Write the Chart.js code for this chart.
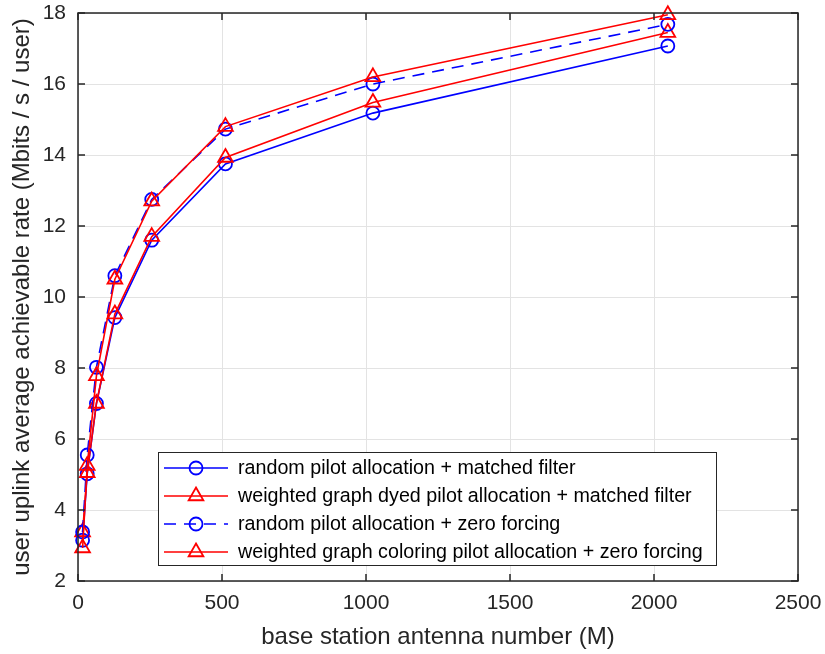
<!DOCTYPE html>
<html>
<head>
<meta charset="utf-8">
<script src="https://cdn.jsdelivr.net/npm/chart.js@4/dist/chart.umd.min.js"></script>
<style>
  html, body { margin: 0; padding: 0; background: #fff; }
  #wrap { width: 825px; height: 654px; }
</style>
</head>
<body>
<div id="wrap"><canvas id="grafico" width="825" height="654"></canvas></div>
<script>
// antenna numbers M
const antenas = [16, 32, 64, 128, 256, 512, 1024, 2048];
// rates (Mbits/s/user)
const aleatorioMF = [3.15, 5.02, 7.00, 9.42, 11.60, 13.75, 15.18, 17.07];
const grafoMF = [3.38, 5.05, 7.00, 9.52, 11.70, 13.93, 15.48, 17.45];
const aleatorioZF = [3.38, 5.55, 8.02, 10.60, 12.75, 14.73, 16.00, 17.68];
const grafoZF = [2.93, 5.25, 7.78, 10.50, 12.70, 14.80, 16.20, 17.95];
const rotulos = [
  "random pilot allocation + matched filter",
  "weighted graph dyed pilot allocation + matched filter",
  "random pilot allocation + zero forcing",
  "weighted graph coloring pilot allocation + zero forcing"
];
const ticksX = [0, 500, 1000, 1500, 2000, 2500];
const ticksY = [2, 4, 6, 8, 10, 12, 14, 16, 18];

const FONTE = "'Liberation Sans', Arial, sans-serif";
const AZUL = "#0000ff", VERMELHO = "#ff0000", EIXO = "#262626";

const pares = ys => antenas.map((m, i) => ({ x: m, y: ys[i] }));

function serie(label, ys, cor, estilo, tracejado, ordem) {
  return {
    label, data: pares(ys), borderColor: cor, backgroundColor: "rgba(0,0,0,0)",
    borderWidth: 1.6, borderDash: tracejado ? [12, 8] : [], tension: 0,
    pointStyle: estilo, pointRadius: estilo === "triangle" ? 8.5 : 6.5,
    pointBorderWidth: 1.8, pointBorderColor: cor, pointBackgroundColor: "rgba(0,0,0,0)",
    clip: false, order: ordem
  };
}

// no extra label padding, so the plot box stays where MATLAB put it
const semFolga = s => {
  s.paddingLeft = 0; s.paddingRight = 0; s.paddingTop = 0; s.paddingBottom = 0;
};

// box, inward ticks and the legend like MATLAB
const moldura = {
  id: "moldura",
  afterDraw(chart) {
    const { ctx, chartArea: a, scales: { x, y } } = chart;
    ctx.save();
    ctx.strokeStyle = EIXO; ctx.lineWidth = 1.5; ctx.setLineDash([]);
    ctx.strokeRect(a.left, a.top, a.right - a.left, a.bottom - a.top);
    const t = 7;
    ctx.beginPath();
    ticksX.forEach(v => {
      const px = x.getPixelForValue(v);
      ctx.moveTo(px, a.bottom); ctx.lineTo(px, a.bottom - t);
      ctx.moveTo(px, a.top); ctx.lineTo(px, a.top + t);
    });
    ticksY.forEach(v => {
      const py = y.getPixelForValue(v);
      ctx.moveTo(a.left, py); ctx.lineTo(a.left + t, py);
      ctx.moveTo(a.right, py); ctx.lineTo(a.right - t, py);
    });
    ctx.stroke();

    // legend
    const bx = 158, by = 452, bw = 558, bh = 113, linha = 28;
    ctx.fillStyle = "#fff";
    ctx.fillRect(bx, by, bw, bh);
    ctx.strokeStyle = EIXO; ctx.lineWidth = 1;
    ctx.strokeRect(bx + 0.5, by + 0.5, bw, bh);
    ctx.font = "19.7px " + FONTE;
    ctx.textBaseline = "middle";
    chart.data.datasets.forEach((ds, i) => {
      const cy = by + 16 + i * linha, cx = bx + 38;
      ctx.strokeStyle = ds.borderColor; ctx.lineWidth = 1.6;
      ctx.setLineDash(ds.borderDash);
      ctx.beginPath(); ctx.moveTo(bx + 6, cy); ctx.lineTo(bx + 70, cy); ctx.stroke();
      ctx.setLineDash([]);
      ctx.lineWidth = 1.8;
      ctx.beginPath();
      if (ds.pointStyle === "circle") {
        ctx.arc(cx, cy, 6.5, 0, Math.PI * 2);
      } else {
        const r = 8.5;
        ctx.moveTo(cx, cy - r);
        ctx.lineTo(cx + r * Math.sin(Math.PI / 3), cy + r / 2);
        ctx.lineTo(cx - r * Math.sin(Math.PI / 3), cy + r / 2);
        ctx.closePath();
      }
      ctx.stroke();
      ctx.fillStyle = "#000";
      ctx.fillText(ds.label, bx + 80, cy + 1);
    });
    ctx.restore();
  }
};

new Chart(document.getElementById("grafico"), {
  type: "line",
  data: {
    datasets: [
      serie(rotulos[0], aleatorioMF, AZUL, "circle", false, 4),
      serie(rotulos[1], grafoMF, VERMELHO, "triangle", false, 3),
      serie(rotulos[2], aleatorioZF, AZUL, "circle", true, 2),
      serie(rotulos[3], grafoZF, VERMELHO, "triangle", false, 1)
    ]
  },
  options: {
    responsive: false, animation: false,
    layout: { padding: { left: 0, top: 13, right: 27, bottom: 0 } },
    plugins: { legend: { display: false }, tooltip: { enabled: false } },
    scales: {
      x: {
        type: "linear", min: 0, max: 2500,
        afterBuildTicks: s => { s.ticks = ticksX.map(v => ({ value: v })); },
        afterFit: s => { s.height = 73; semFolga(s); },
        grid: { color: "#e3e3e3", drawTicks: false },
        border: { display: false },
        ticks: { color: EIXO, padding: 10, font: { family: FONTE, size: 21 }, maxRotation: 0,
                 callback: v => String(v) },
        title: { display: true, text: "base station antenna number (M)", color: EIXO,
                 font: { family: FONTE, size: 24 }, padding: { top: 0, bottom: 2 } }
      },
      y: {
        min: 2, max: 18,
        afterBuildTicks: s => { s.ticks = ticksY.map(v => ({ value: v })); },
        afterFit: s => { s.width = 78; semFolga(s); },
        grid: { color: "#e3e3e3", drawTicks: false },
        border: { display: false },
        ticks: { color: EIXO, padding: 12, font: { family: FONTE, size: 21 },
                 callback: v => String(v) },
        title: { display: true, text: "user uplink average achievable rate (Mbits / s / user)", color: EIXO,
                 font: { family: FONTE, size: 24 }, padding: { top: 8, bottom: 0 } }
      }
    }
  },
  plugins: [moldura]
});
</script>
</body>
</html>
